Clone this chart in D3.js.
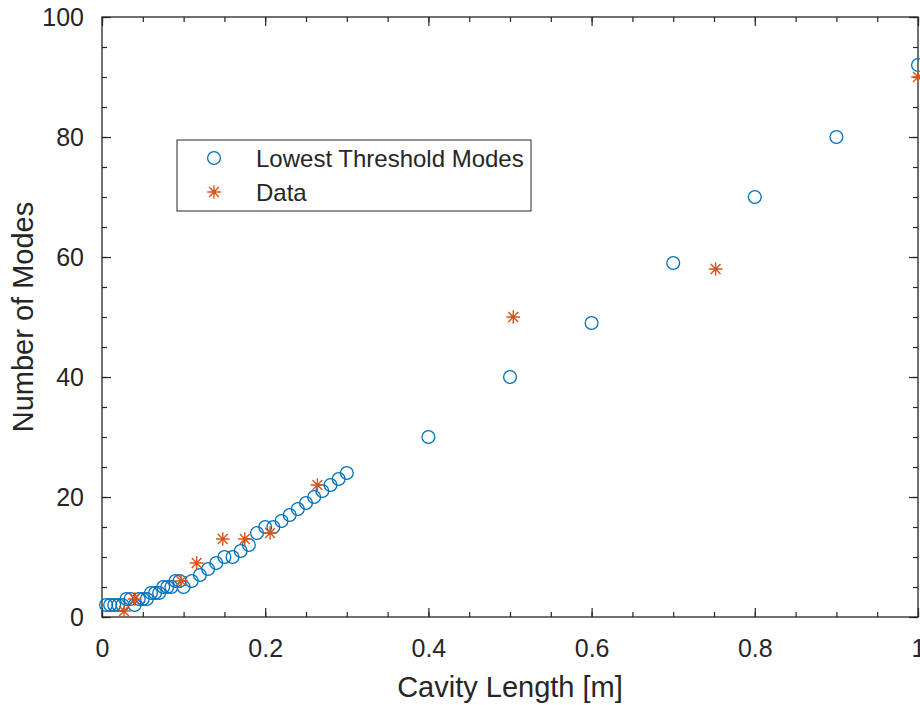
<!DOCTYPE html>
<html>
<head>
<meta charset="utf-8">
<script src="https://cdn.jsdelivr.net/npm/d3@7"></script>
<style>
  body { margin: 0; background: #fff; }
  text { font-family: "Liberation Sans", Arial, sans-serif; fill: #262626; }
</style>
</head>
<body>
<div class="canvas"></div>
<script>
// data
const modeLength = [0.005, 0.01, 0.015, 0.02, 0.025, 0.03, 0.035, 0.04, 0.045, 0.05,
  0.055, 0.06, 0.065, 0.07, 0.075, 0.08, 0.085, 0.09, 0.095, 0.1,
  0.11, 0.12, 0.13, 0.14, 0.15, 0.16, 0.17, 0.18, 0.19, 0.2,
  0.21, 0.22, 0.23, 0.24, 0.25, 0.26, 0.27, 0.28, 0.29, 0.3,
  0.4, 0.5, 0.6, 0.7, 0.8, 0.9, 1.0];
const modeCount = [2, 2, 2, 2, 2, 3, 3, 2, 3, 3,
  3, 4, 4, 4, 5, 5, 5, 6, 6, 5,
  6, 7, 8, 9, 10, 10, 11, 12, 14, 15,
  15, 16, 17, 18, 19, 20, 21, 22, 23, 24,
  30, 40, 49, 59, 70, 80, 92];
const dataLength = [0.027, 0.04, 0.097, 0.116, 0.148, 0.175, 0.206, 0.264, 0.504, 0.752, 1.0];
const dataCount = [1, 3, 6, 9, 13, 13, 14, 22, 50, 58, 90];
const xTicks = [0, 0.2, 0.4, 0.6, 0.8, 1];
const yTicks = [0, 20, 40, 60, 80, 100];
const legendLabels = ['Lowest Threshold Modes', 'Data'];

const blue = '#0072BD', orange = '#D95319', axisCol = '#262626';

//1. dimensions
const width = 920, height = 705;
const margin = {top: 17, right: 2, bottom: 88, left: 102};
const graphWidth = width - margin.left - margin.right;
const graphHeight = height - margin.top - margin.bottom;

//2. svg
const svg = d3.select('.canvas').append('svg')
    .attr('width', width)
    .attr('height', height);

const graph = svg.append('g')
    .attr('transform', `translate(${margin.left},${margin.top})`);

const x = d3.scaleLinear().domain([0, 1]).range([0, graphWidth]);
const y = d3.scaleLinear().domain([0, 100]).range([graphHeight, 0]);

//3. axes (box with inward ticks, minor ticks too)
const xMinor = d3.range(0, 1.0001, 0.05);
const yMinor = d3.range(0, 100.001, 5);

function styleAxis(g) {
  g.select('.domain').remove();
  g.selectAll('line').attr('stroke', axisCol).attr('stroke-width', 1.2);
}

graph.append('g').attr('transform', `translate(0,${graphHeight})`)
  .call(d3.axisBottom(x).tickValues(xMinor).tickSize(-5).tickFormat(''))
  .call(styleAxis);
graph.append('g')
  .call(d3.axisTop(x).tickValues(xMinor).tickSize(-5).tickFormat(''))
  .call(styleAxis);
graph.append('g')
  .call(d3.axisLeft(y).tickValues(yMinor).tickSize(-5).tickFormat(''))
  .call(styleAxis);
graph.append('g').attr('transform', `translate(${graphWidth},0)`)
  .call(d3.axisRight(y).tickValues(yMinor).tickSize(-5).tickFormat(''))
  .call(styleAxis);

graph.append('g').attr('transform', `translate(0,${graphHeight})`)
  .call(d3.axisBottom(x).tickValues(xTicks).tickSize(-9).tickPadding(22).tickFormat(d3.format('')))
  .call(styleAxis);
graph.append('g')
  .call(d3.axisTop(x).tickValues(xTicks).tickSize(-9).tickFormat(''))
  .call(styleAxis);
graph.append('g')
  .call(d3.axisLeft(y).tickValues(yTicks).tickSize(-9).tickPadding(18).tickFormat(d3.format('')))
  .call(styleAxis);
graph.append('g').attr('transform', `translate(${graphWidth},0)`)
  .call(d3.axisRight(y).tickValues(yTicks).tickSize(-9).tickFormat(''))
  .call(styleAxis);

graph.selectAll('.tick text')
  .attr('font-size', 25)
  .attr('font-family', '"Liberation Sans", Arial, sans-serif')
  .attr('fill', axisCol);

graph.append('rect')
  .attr('width', graphWidth).attr('height', graphHeight)
  .attr('fill', 'none').attr('stroke', axisCol).attr('stroke-width', 1.3);

// axis titles
svg.append('text')
  .attr('x', margin.left + graphWidth / 2).attr('y', 697)
  .attr('text-anchor', 'middle').attr('font-size', 29)
  .text('Cavity Length [m]');
svg.append('text')
  .attr('transform', `translate(33,${margin.top + graphHeight / 2}) rotate(-90)`)
  .attr('text-anchor', 'middle').attr('font-size', 29)
  .text('Number of Modes');

//4. markers
const starPath = s => `M${-s},0L${s},0M0,${-s}L0,${s}` +
  `M${-s * 0.72},${-s * 0.72}L${s * 0.72},${s * 0.72}M${-s * 0.72},${s * 0.72}L${s * 0.72},${-s * 0.72}`;

graph.append('g').selectAll('circle')
  .data(modeLength.map((d, i) => ({x: d, y: modeCount[i]})))
  .join('circle')
  .attr('cx', d => x(d.x))
  .attr('cy', d => y(d.y))
  .attr('r', 6.4)
  .attr('fill', 'none')
  .attr('stroke', blue)
  .attr('stroke-width', 1.3);

graph.append('g').selectAll('path')
  .data(dataLength.map((d, i) => ({x: d, y: dataCount[i]})))
  .join('path')
  .attr('transform', d => `translate(${x(d.x)},${y(d.y)})`)
  .attr('d', starPath(6.8))
  .attr('stroke', orange)
  .attr('stroke-width', 1.4);

//5. legend
const legend = svg.append('g').attr('transform', 'translate(177,140)');
legend.append('rect')
  .attr('width', 354).attr('height', 71)
  .attr('fill', '#fff').attr('stroke', axisCol).attr('stroke-width', 1);
legend.append('circle')
  .attr('cx', 37).attr('cy', 18).attr('r', 6.4)
  .attr('fill', 'none').attr('stroke', blue).attr('stroke-width', 1.3);
legend.append('path')
  .attr('transform', 'translate(37,52)')
  .attr('d', starPath(6.8))
  .attr('stroke', orange).attr('stroke-width', 1.4);
legend.selectAll('text.lab')
  .data(legendLabels)
  .join('text')
  .attr('class', 'lab')
  .attr('x', 79)
  .attr('y', (d, i) => 27 + i * 34)
  .attr('font-size', 24)
  .text(d => d);
</script>
</body>
</html>
